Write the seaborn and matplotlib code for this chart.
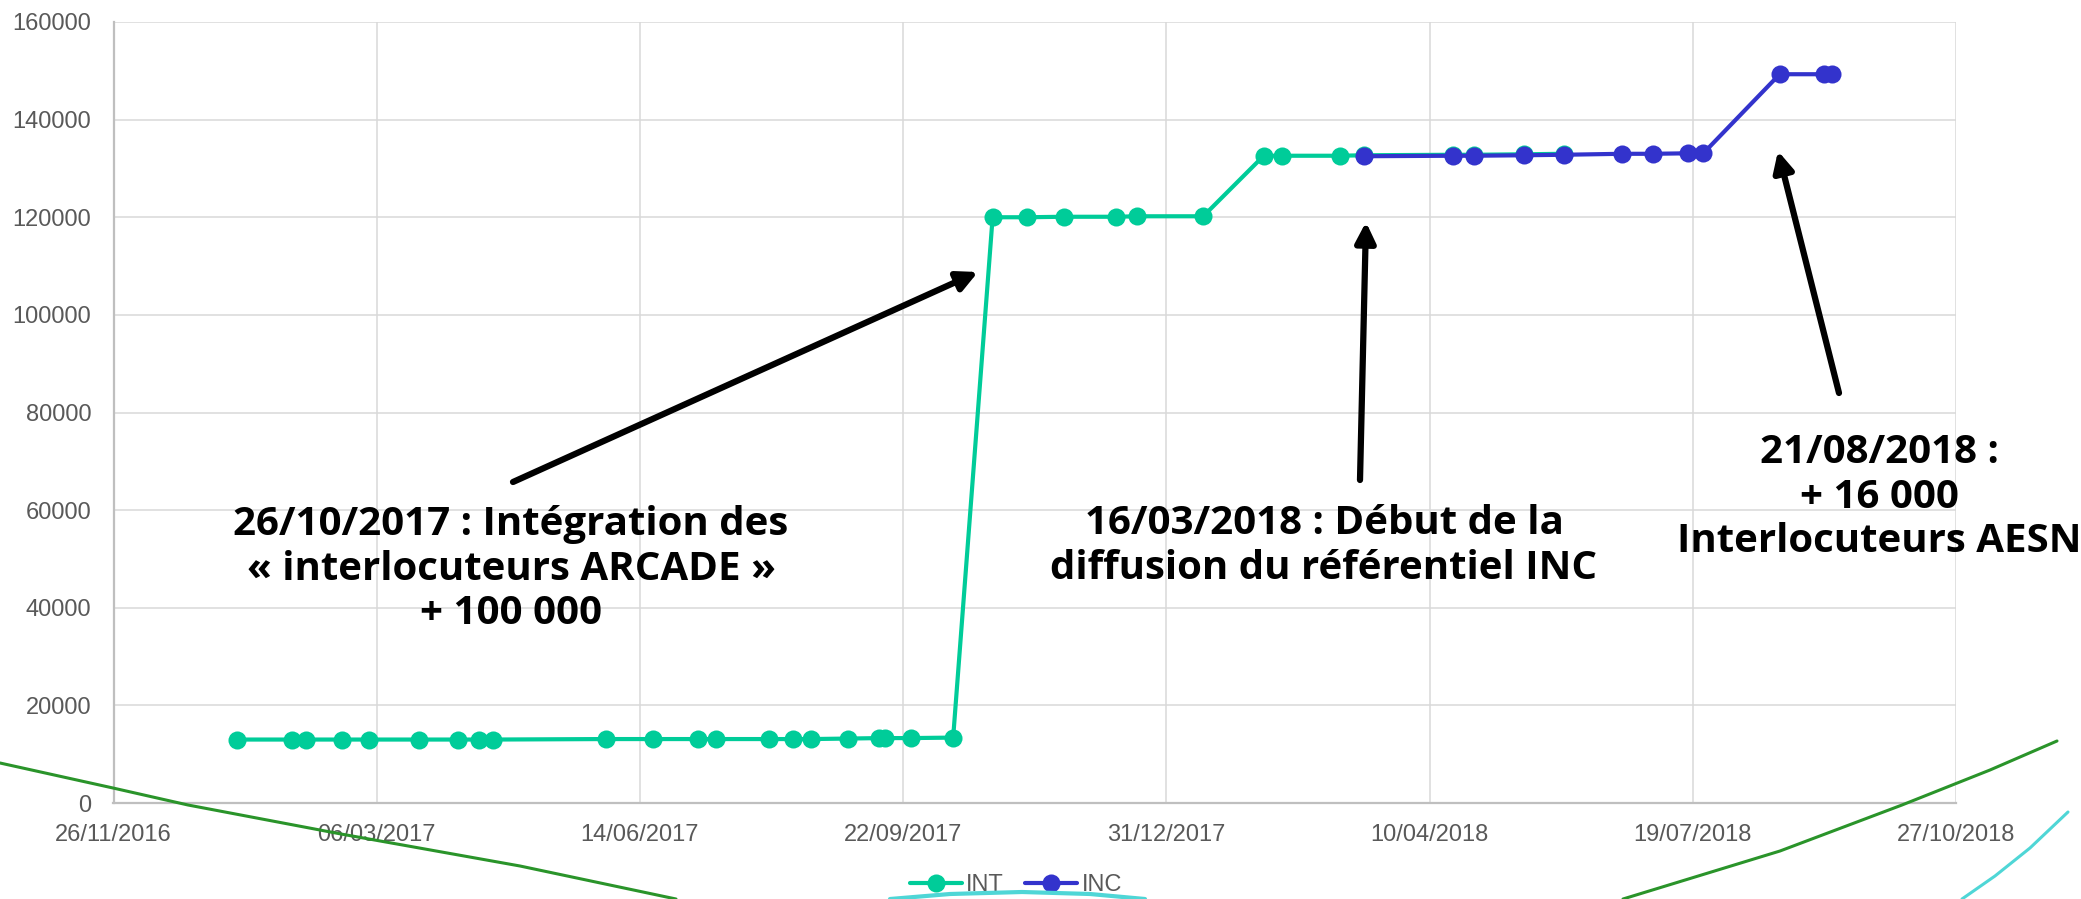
import pandas as pd
import numpy as np
import matplotlib
matplotlib.use("Agg")
import matplotlib.pyplot as plt
import matplotlib.dates as mdates
from matplotlib.lines import Line2D
import seaborn as sns

# data
int_dates = ["12/01/2017", "02/02/2017", "07/02/2017", "21/02/2017", "03/03/2017",
             "22/03/2017", "06/04/2017", "14/04/2017", "19/04/2017", "01/06/2017",
             "19/06/2017", "06/07/2017", "13/07/2017", "02/08/2017", "11/08/2017",
             "18/08/2017", "01/09/2017", "13/09/2017", "15/09/2017", "25/09/2017",
             "11/10/2017", "26/10/2017", "08/11/2017", "22/11/2017", "12/12/2017",
             "20/12/2017", "14/01/2018", "06/02/2018", "13/02/2018", "07/03/2018",
             "16/03/2018", "19/04/2018", "27/04/2018", "16/05/2018", "31/05/2018"]
int_values = [13000, 13000, 13000, 13000, 13000, 13000, 13000, 13000, 13000, 13100,
              13100, 13100, 13100, 13100, 13100, 13100, 13200, 13300, 13300, 13300,
              13400, 120000, 120000, 120100, 120100, 120200, 120200, 132600, 132600, 132600,
              132700, 132800, 132800, 132900, 133000]
inc_dates = ["16/03/2018", "19/04/2018", "27/04/2018", "16/05/2018", "31/05/2018",
             "22/06/2018", "04/07/2018", "17/07/2018", "23/07/2018", "21/08/2018",
             "07/09/2018", "10/09/2018"]
inc_values = [132500, 132600, 132600, 132700, 132800, 133000, 133000, 133100, 133100,
              149300, 149300, 149300]

tick_dates = ["26/11/2016", "06/03/2017", "14/06/2017", "22/09/2017", "31/12/2017",
              "10/04/2018", "19/07/2018", "27/10/2018"]

annotation_texts = [
    "26/10/2017 : Intégration des\n« interlocuteurs ARCADE »\n+ 100 000",
    "16/03/2018 : Début de la\ndiffusion du référentiel INC",
    "21/08/2018 :\n+ 16 000\nInterlocuteurs AESN",
]

C_INT = "#00CC99"
C_INC = "#3333CC"

df_int = pd.DataFrame({"date": pd.to_datetime(int_dates, dayfirst=True), "value": int_values})
df_inc = pd.DataFrame({"date": pd.to_datetime(inc_dates, dayfirst=True), "value": inc_values})
ticks = pd.to_datetime(tick_dates, dayfirst=True)

sns.set_style("white")
plt.rcParams["font.family"] = ["Liberation Sans", "DejaVu Sans"]

W, H = 2081, 899
fig = plt.figure(figsize=(W / 100, H / 100), dpi=100)
ax = fig.add_axes([113.5 / W, 1 - 803 / H, (1956 - 113.5) / W, (803 - 22) / H])

sns.lineplot(data=df_int, x="date", y="value", ax=ax, color=C_INT, lw=3,
             marker="o", markersize=13, markeredgewidth=0, label="INT", sort=False)
sns.lineplot(data=df_inc, x="date", y="value", ax=ax, color=C_INC, lw=3,
             marker="o", markersize=13, markeredgewidth=0, label="INC", sort=False)

ax.set_xlim(ticks[0], ticks[-1])
ax.set_ylim(0, 160000)
ax.set_xticks(ticks)
ax.xaxis.set_major_formatter(mdates.DateFormatter("%d/%m/%Y"))
ax.set_yticks(range(0, 160001, 20000))
ax.set_xlabel("")
ax.set_ylabel("")
ax.grid(True, color="#D9D9D9", lw=1.1)
ax.set_axisbelow(True)
for s in ["top", "right"]:
    ax.spines[s].set_visible(False)
for s in ["left", "bottom"]:
    ax.spines[s].set_color("#BFBFBF")
    ax.spines[s].set_linewidth(1.6)
ax.tick_params(axis="both", length=0, labelsize=17, colors="#595959")
ax.tick_params(axis="x", pad=15)
ax.tick_params(axis="y", pad=16)

# annotations (pixel positions on the slide)
text_px = [(511, 569), (1324, 546), (1879, 497)]
tail_px = [(513, 482), (1360, 480), (1839, 393)]
tip_px = [(978, 272), (1366, 222), (1778, 151)]
for txt, (tx, ty), (sx, sy), (ex, ey) in zip(annotation_texts, text_px, tail_px, tip_px):
    fig.text(tx / W, 1 - ty / H, txt, ha="center", va="center", fontsize=29,
             fontweight="bold", family=["Open Sans", "DejaVu Sans"], color="black",
             linespacing=1.2)
    fig.add_artist(matplotlib.patches.FancyArrowPatch(
        (sx / W, 1 - sy / H), (ex / W, 1 - ey / H), transform=fig.transFigure,
        arrowstyle="-|>", lw=4.5, color="black", mutation_scale=30,
        shrinkA=0, shrinkB=0))

leg = ax.legend(loc="center", bbox_to_anchor=(1016 / W, 1 - 885 / H),
                bbox_transform=fig.transFigure, ncol=2, frameon=False,
                fontsize=17, handlelength=2.2, handletextpad=0.2, columnspacing=0.9)
for t in leg.get_texts():
    t.set_color("#595959")

# decorative slide curves
def deco(pts, color, lw):
    xs = [p[0] / W for p in pts]
    ys = [1 - p[1] / H for p in pts]
    fig.add_artist(Line2D(xs, ys, color=color, lw=lw, transform=fig.transFigure,
                          solid_capstyle="round"))

deco([(0, 763), (113, 788), (188, 805), (341, 834), (520, 866), (676, 899)], "#2A942A", 2.2)
deco([(1623, 899), (1780, 851), (1902, 805), (1990, 770), (2057, 741)], "#2A942A", 2.2)
deco([(890, 899), (950, 894), (1022, 892), (1090, 894), (1145, 899)], "#4FD6D6", 3.0)
deco([(1962, 899), (1995, 876), (2030, 848), (2068, 812)], "#4FD6D6", 2.2)

fig.savefig("out.png", dpi=100)
